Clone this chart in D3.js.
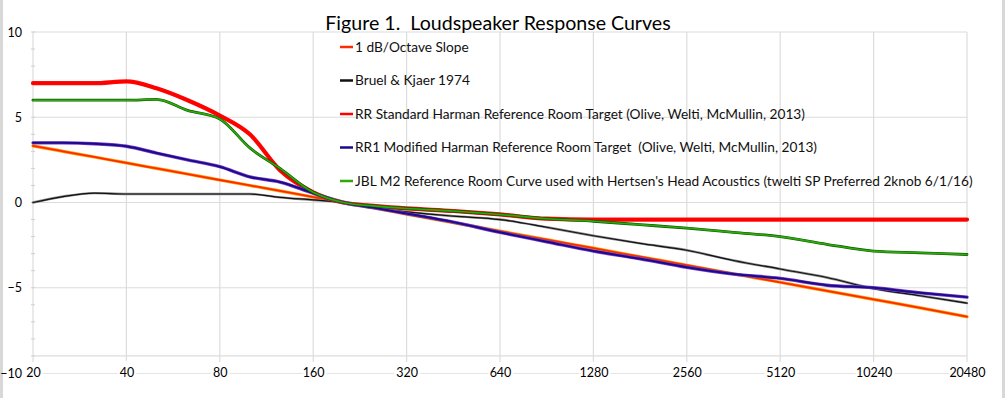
<!DOCTYPE html>
<html>
<head>
<meta charset="utf-8">
<script src="https://cdn.jsdelivr.net/npm/d3@7"></script>
<style>
body { margin: 0; background: #fff; }
svg { display: block; }
</style>
</head>
<body>
<script>

var W = 1005;
var H = 398;

var TITLE = "Figure 1.  Loudspeaker Response Curves";

// frequencies (Hz) the curves were read at
var FREQS = [20, 25, 31.5, 40, 50, 63, 80, 100, 125, 160, 200, 250, 320, 453, 640, 905,
             1280, 1810, 2560, 3620, 5120, 7240, 10240, 14480, 20480];

var X_TICKS = [20, 40, 80, 160, 320, 640, 1280, 2560, 5120, 10240, 20480];
var Y_TICKS = [10, 5, 0, -5, -10];

var NAMES = [
    "1 dB/Octave Slope",
    "Bruel & Kjaer 1974",
    "RR Standard Harman Reference Room Target (Olive, Welti, McMullin, 2013)",
    "RR1 Modified Harman Reference Room Target  (Olive, Welti, McMullin, 2013)",
    "JBL M2 Reference Room Curve used with Hertsen's Head Acoustics (twelti SP Preferred 2knob 6/1/16)"
];

var SLOPE = [3.32, 3.0, 2.67, 2.32, 2.0, 1.67, 1.32, 1.0, 0.68, 0.32, 0.0, -0.32, -0.68, -1.18, -1.68, -2.18,
             -2.68, -3.18, -3.68, -4.18, -4.68, -5.18, -5.68, -6.18, -6.7];
var BK1974 = [0.0, 0.35, 0.55, 0.5, 0.5, 0.5, 0.5, 0.5, 0.3, 0.15, 0.0, -0.3, -0.55, -0.8, -1.0, -1.45,
              -1.95, -2.4, -2.8, -3.4, -3.9, -4.4, -5.05, -5.47, -5.9];
var RR = [7.0, 7.0, 7.0, 7.1, 6.7, 6.0, 5.1, 4.0, 1.9, 0.6, 0.0, -0.2, -0.35, -0.5, -0.7, -0.95,
          -1.0, -1.0, -1.0, -1.0, -1.0, -1.0, -1.0, -1.0, -1.0];
var RR1 = [3.5, 3.5, 3.45, 3.3, 2.9, 2.5, 2.1, 1.5, 1.2, 0.55, 0.0, -0.3, -0.65, -1.15, -1.75, -2.3,
           -2.85, -3.3, -3.8, -4.2, -4.45, -4.85, -5.0, -5.3, -5.55];
var JBL = [6.0, 6.0, 6.0, 6.0, 6.05, 5.4, 4.9, 3.2, 2.0, 0.6, 0.0, -0.2, -0.35, -0.5, -0.7, -0.95,
           -1.1, -1.3, -1.5, -1.75, -2.0, -2.45, -2.85, -2.95, -3.05];

var SERIES = [SLOPE, BK1974, RR, RR1, JBL];

// outer stroke, inner stroke, widths
var STYLES = [
    { edge: "#ff9a00", core: "#ff2a00", we: 3.2, wc: 1.8 },
    { edge: "#8a8a8a", core: "#111111", we: 2.4, wc: 1.2 },
    { edge: "#ff1010", core: "#ff0000", we: 4.2, wc: 3.0 },
    { edge: "#7a3cc0", core: "#1a0a8c", we: 3.4, wc: 2.0 },
    { edge: "#0a5a00", core: "#2fa80a", we: 2.8, wc: 1.6 }
];

var svg = d3.select("body").append("svg")
    .attr("width", W)
    .attr("height", H)
    .style("font-family", "Lato, 'Open Sans', sans-serif");

svg.append("rect").attr("width", W).attr("height", H).attr("fill", "#fff");
// thin grey strips at the edges of the scan
svg.append("rect").attr("x", 0).attr("y", 0).attr("width", 3).attr("height", H).attr("fill", "#d8d8d8");
svg.append("rect").attr("x", W - 3).attr("y", 0).attr("width", 3).attr("height", H).attr("fill", "#d8d8d8");

var x = d3.scaleLog().base(2).domain([20, 20480]).range([33, 967]);
var y = d3.scaleLinear().domain([-10, 10]).range([373, 32]);
var plotBottom = y(-9);

// grid
var grid = svg.append("g").attr("class", "grid");
grid.selectAll("line.v")
    .data(X_TICKS)
    .enter().append("line")
    .attr("class", "v")
    .attr("x1", function (d) { return x(d); })
    .attr("x2", function (d) { return x(d); })
    .attr("y1", y(10))
    .attr("y2", plotBottom + 6)
    .attr("stroke", "#dcdcdc")
    .attr("stroke-width", 1.2);
grid.selectAll("line.h")
    .data(Y_TICKS.filter(function (d) { return d > -10; }).concat([-9]))
    .enter().append("line")
    .attr("class", "h")
    .attr("x1", x(20))
    .attr("x2", x(20480))
    .attr("y1", function (d) { return y(d); })
    .attr("y2", function (d) { return y(d); })
    .attr("stroke", "#dcdcdc")
    .attr("stroke-width", 1.2);

// small minor marks on the value axis
grid.selectAll("line.m")
    .data(d3.range(-9, 11))
    .enter().append("line")
    .attr("class", "m")
    .attr("x1", x(20) - 2)
    .attr("x2", x(20) + 2)
    .attr("y1", function (d) { return y(d); })
    .attr("y2", function (d) { return y(d); })
    .attr("stroke", "#cfcfcf");

// x axis sits on the -10 line, labels drawn over it
var xAxis = svg.append("g")
    .attr("transform", "translate(0," + y(-10) + ")")
    .call(d3.axisBottom(x).tickValues(X_TICKS).tickFormat(d3.format("d")).tickSize(0));
xAxis.select(".domain").attr("stroke", "#e4e4e4").attr("stroke-width", 1.2);
xAxis.selectAll("text")
    .attr("dy", "0.35em")
    .attr("y", 0)
    .attr("font-size", 12.5)
    .attr("font-family", "Lato, sans-serif")
    .attr("fill", "#000")
    .attr("stroke", "#fff")
    .attr("stroke-width", 5)
    .attr("paint-order", "stroke");

var yAxis = svg.append("g")
    .attr("transform", "translate(22,0)")
    .call(d3.axisLeft(y).tickValues(Y_TICKS).tickSize(0));
yAxis.select(".domain").remove();
yAxis.selectAll("text")
    .attr("x", 0)
    .attr("font-size", 12.5)
    .attr("font-family", "Lato, sans-serif")
    .attr("fill", "#000");

// curves
var line = d3.line()
    .x(function (d, i) { return x(FREQS[i]); })
    .y(function (d) { return y(d); })
    .curve(d3.curveMonotoneX);

var curves = svg.append("g").attr("fill", "none").attr("stroke-linecap", "round").attr("stroke-linejoin", "round");
SERIES.forEach(function (s, k) {
    curves.append("path")
        .attr("d", line(s))
        .attr("stroke", STYLES[k].edge)
        .attr("stroke-width", STYLES[k].we);
    curves.append("path")
        .attr("d", line(s))
        .attr("stroke", STYLES[k].core)
        .attr("stroke-width", STYLES[k].wc);
});

// title
svg.append("text")
    .attr("x", 498)
    .attr("y", 30)
    .attr("text-anchor", "middle")
    .attr("font-size", 19.6)
    .attr("fill", "#000")
    .style("white-space", "pre")
    .text(TITLE);

// legend
var legend = svg.append("g").attr("transform", "translate(340,47)");
var items = legend.selectAll("g")
    .data(NAMES)
    .enter().append("g")
    .attr("transform", function (d, i) { return "translate(0," + (i * 33.5) + ")"; });
items.append("line")
    .attr("x1", 0).attr("x2", 13)
    .attr("stroke", function (d, i) { return STYLES[i].core; })
    .attr("stroke-width", 2.5);
items.append("text")
    .attr("x", 15)
    .attr("dy", "0.36em")
    .attr("font-size", 13.7)
    .attr("fill", "#111")
    .style("white-space", "pre")
    .text(function (d) { return d; });

</script>
</body>
</html>
